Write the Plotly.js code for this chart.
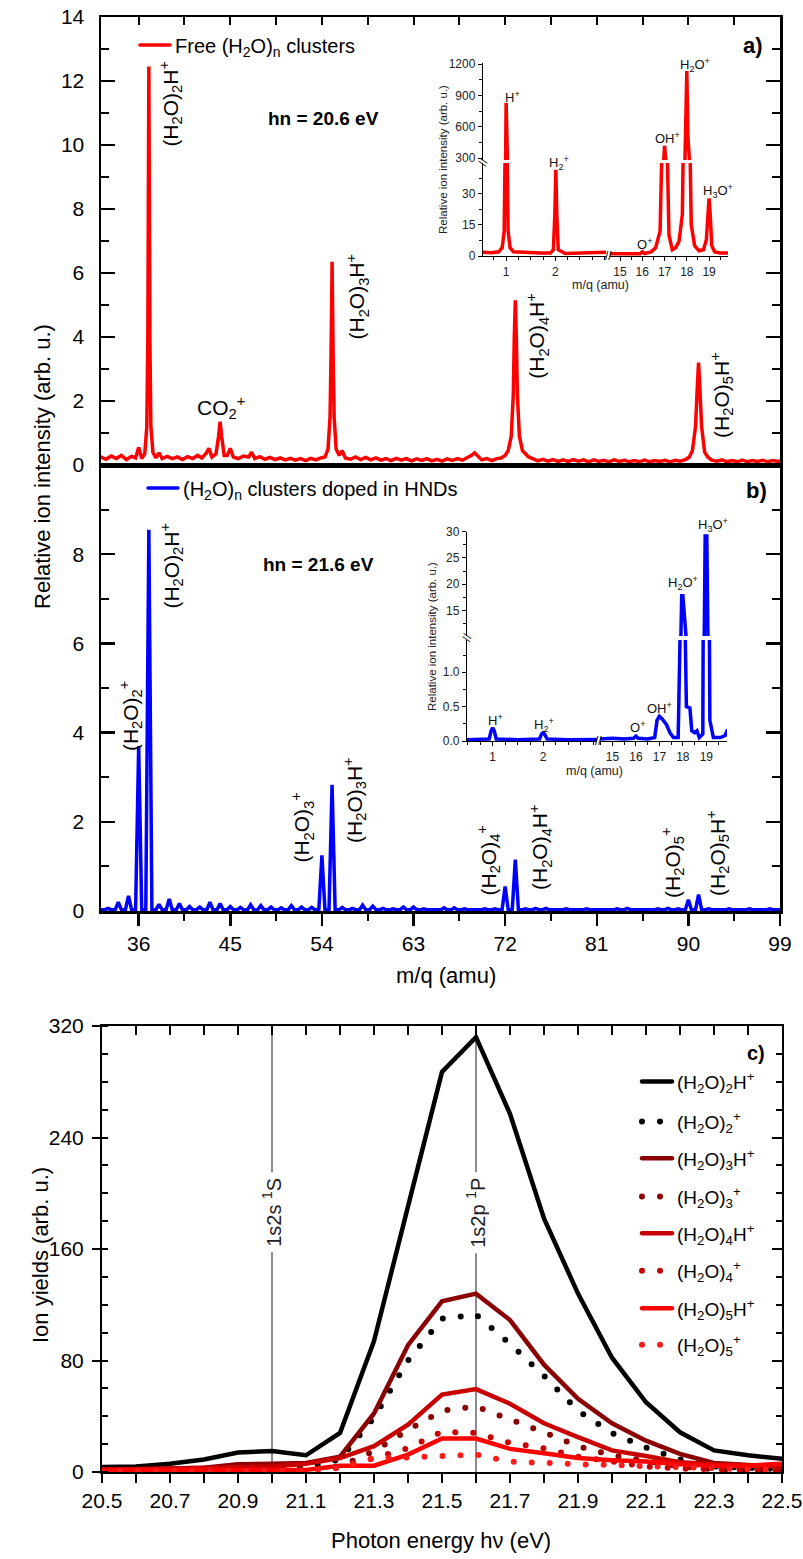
<!DOCTYPE html>
<html>
<head>
<meta charset="utf-8">
<script src="https://cdn.plot.ly/plotly-3.0.1.min.js"></script>
<style>
  html, body { margin: 0; padding: 0; background: #fff; }
  #chart { width: 803px; height: 1559px; }
  /* round caps turn zero-length dashes into round dots */
  .js-line { stroke-linecap: round; }
</style>
</head>
<body>
<div id="chart"></div>
<script>
// ---------------- data ----------------
// (a) free water clusters, hv = 20.6 eV : [m/q, intensity]
const freeSpectrum = [
  [32.3,0.25],[32.8,0.18],[33.3,0.28],[33.8,0.2],[34.3,0.3],[34.8,0.17],[35.3,0.27],[35.7,0.22],
  [36.0,0.55],[36.3,0.2],[36.6,0.35],[36.8,1.2],[36.9,4.0],[37.0,12.45],[37.1,4.0],[37.2,1.2],
  [37.4,0.4],[37.7,0.22],[38.0,0.38],[38.3,0.2],[38.8,0.27],[39.3,0.2],[39.8,0.25],[40.3,0.17],
  [40.8,0.26],[41.3,0.2],[41.8,0.3],[42.2,0.22],[42.6,0.35],[42.9,0.52],[43.2,0.25],[43.6,0.35],
  [43.85,0.9],[44.0,1.35],[44.15,0.9],[44.4,0.3],[44.7,0.3],[45.0,0.52],[45.3,0.25],[45.8,0.2],
  [46.3,0.28],[46.8,0.25],[47.1,0.4],[47.4,0.2],[47.9,0.26],[48.4,0.18],[48.9,0.24],[49.4,0.17],
  [49.9,0.22],[50.4,0.16],[50.9,0.21],[51.4,0.15],[51.9,0.2],[52.4,0.14],[52.9,0.21],[53.4,0.16],
  [53.9,0.22],[54.3,0.25],[54.6,0.5],[54.8,1.5],[54.9,3.5],[55.0,6.35],[55.1,3.5],[55.2,1.5],
  [55.4,0.5],[55.7,0.3],[56.0,0.45],[56.3,0.22],[56.8,0.18],[57.3,0.25],[57.8,0.17],[58.3,0.24],
  [58.8,0.16],[59.3,0.22],[59.8,0.15],[60.3,0.2],[60.8,0.14],[61.3,0.21],[61.8,0.15],[62.3,0.2],
  [62.8,0.13],[63.3,0.19],[63.8,0.14],[64.3,0.2],[64.8,0.13],[65.3,0.18],[65.8,0.12],[66.3,0.19],
  [66.8,0.14],[67.3,0.2],[67.8,0.15],[68.3,0.22],[68.7,0.3],[69.0,0.38],[69.3,0.28],[69.7,0.16],
  [70.2,0.2],[70.7,0.14],[71.2,0.2],[71.6,0.22],[72.0,0.3],[72.3,0.45],[72.6,0.9],[72.8,2.2],
  [72.9,4.0],[73.0,5.15],[73.1,4.0],[73.2,2.2],[73.4,0.9],[73.7,0.45],[74.0,0.35],[74.3,0.25],
  [74.7,0.2],[75.2,0.13],[75.7,0.18],[76.2,0.12],[76.7,0.17],[77.2,0.11],[77.7,0.16],[78.2,0.11],
  [78.7,0.17],[79.2,0.12],[79.7,0.16],[80.2,0.1],[80.7,0.16],[81.2,0.11],[81.7,0.15],[82.2,0.1],
  [82.7,0.16],[83.2,0.11],[83.7,0.15],[84.2,0.1],[84.7,0.14],[85.2,0.1],[85.7,0.15],[86.2,0.1],
  [86.7,0.14],[87.2,0.11],[87.7,0.15],[88.2,0.1],[88.7,0.15],[89.2,0.12],[89.7,0.17],[90.1,0.25],
  [90.4,0.45],[90.7,1.2],[90.9,2.6],[91.0,3.2],[91.1,2.6],[91.3,1.2],[91.6,0.4],[91.9,0.25],
  [92.3,0.15],[92.8,0.12],[93.3,0.16],[93.8,0.1],[94.3,0.14],[94.8,0.1],[95.3,0.15],[95.8,0.1],
  [96.3,0.14],[96.8,0.11],[97.3,0.15],[97.8,0.1],[98.3,0.14],[98.8,0.11],[99.0,0.13]
];

// (a) inset: low-mass fragments of free clusters
const freeInset = [
  [0.53,1.8],[0.7,1.6],[0.85,2.0],[0.92,4],[0.96,12],[0.985,60],[1.0,830],[1.015,60],[1.04,12],
  [1.08,4],[1.15,2.0],[1.4,1.6],[1.7,1.4],[1.9,1.4],[1.96,3],[1.99,20],[2.01,41.5],[2.03,20],
  [2.06,3],[2.2,1.2],[2.5,1.2],[2.8,1.0],[3.1,1.0],
  [14.5,0.8],[15.0,0.8],[15.5,0.9],[15.9,1.1],[16.0,2.0],[16.1,1.2],[16.4,2.0],[16.6,4],[16.8,12],
  [16.9,60],[16.95,300],[17.0,418],[17.05,300],[17.1,60],[17.2,10],[17.35,3],[17.5,4],[17.65,7],
  [17.8,20],[17.9,100],[17.95,500],[18.0,1136],[18.05,500],[18.1,80],[18.2,15],[18.35,5],
  [18.55,2.5],[18.75,3],[18.88,8],[18.95,20],[19.0,27.8],[19.05,20],[19.12,5],[19.25,2],
  [19.5,1.5],[19.85,1.5]
];

// (b) clusters doped in helium nanodroplets, hv = 21.6 eV: peak list
const dopedBaseline = 0.03;
const dopedPeakMz = [33,34,35,36,37,38,39,40,41,42,43,44,45,46,47,48,49,50,51,52,53,54,55,56,57,58,59,60,
  61,62,63,64,65,66,67,68,69,70,71,72,73,74,75,76,77,78,79,80,81,82,83,84,85,86,87,88,89,90,91,92,93,94,
  95,96,97,98];
const dopedPeakHeight = [0.06,0.2,0.34,3.7,8.55,0.15,0.27,0.17,0.1,0.09,0.2,0.17,0.1,0.08,0.14,0.12,0.09,
  0.07,0.12,0.09,0.08,1.25,2.83,0.08,0.06,0.13,0.11,0.06,0.05,0.09,0.09,0.05,0.04,0.07,0.07,0.05,0.04,
  0.05,0.05,0.55,1.15,0.05,0.06,0.06,0.04,0.05,0.04,0.05,0.04,0.04,0.05,0.06,0.04,0.04,0.05,0.06,0.05,
  0.25,0.37,0.05,0.04,0.05,0.04,0.05,0.04,0.05];

// (b) inset: low-mass fragments of doped clusters
const dopedInset = [
  [0.49,0.02],[0.8,0.02],[0.93,0.03],[0.97,0.15],[1.0,0.19],[1.03,0.15],[1.07,0.03],[1.5,0.02],
  [1.93,0.03],[1.97,0.1],[2.0,0.12],[2.03,0.1],[2.08,0.03],[2.5,0.02],[3.1,0.02],
  [14.47,0.03],[15.0,0.04],[15.5,0.03],[15.9,0.04],[16.0,0.07],[16.1,0.04],[16.5,0.03],[16.8,0.05],
  [16.9,0.3],[17.0,0.36],[17.1,0.33],[17.2,0.28],[17.3,0.24],[17.45,0.12],[17.6,0.05],[17.8,0.05],
  [17.88,1.5],[17.95,17.8],[18.0,17.8],[18.08,2],[18.15,0.5],[18.3,0.48],[18.38,0.15],[18.5,0.12],
  [18.6,0.15],[18.7,0.05],[18.85,0.1],[18.9,5],[18.95,29.2],[19.02,29.2],[19.08,5],[19.15,0.3],
  [19.3,0.05],[19.6,0.05],[19.8,0.08],[19.88,0.15]
];

// (c) ion yields versus photon energy
const photonEnergy = [20.5,20.6,20.7,20.8,20.9,21.0,21.1,21.2,21.3,21.4,21.5,21.6,21.7,21.8,21.9,22.0,22.1,22.2,22.3,22.4,22.5];
const yieldW2H = [3.5,4,6,9,14,15,12,28,94,190,287,312,257,182,128,82,50,28.5,15.5,12,9.5];
const yieldW2  = [1,1.5,2,3,3.5,4,3.5,9,39,80,110,113,92,69,44,28,17.5,9,4,3,2];
const yieldW3H = [2,2,2.5,3,5.5,6,6.5,11,42,91,122.5,128,109,77,52.5,35,22.5,13,6.5,5,4];
const yieldW3  = [1,1,1.5,1.5,2,2,2,4,15,30,44,47,38,28.5,18.5,12,8,4,2,1.5,1];
const yieldW4H = [1.5,2,2,2.5,3,4,6,10,18.5,34,55.5,59.5,49,35,25,15.5,11.5,7,5.5,4.5,4];
const yieldW4  = [0.5,0.5,1,1,1,1,1.5,3,9.5,17,29,28,21,17,11,7,4,2.5,2,1.5,1];
const yieldW5H = [1.5,1.5,1.5,1.5,1.5,1.5,1.5,4.5,4.5,12.5,24,24,16.6,13.5,10,8.5,7.5,5.5,4.5,4.5,6];
const yieldW5  = [0.5,0.5,0.5,0.5,1,1,1,3,10,10.5,12,12.5,7.5,6.3,5.6,5,4,3,2.5,2,1.5];

// helium excited states marked in (c)
const heLevels = [21.0, 21.6];
const heLevelNames = ['1s2s <sup>1</sup>S', '1s2p <sup>1</sup>P'];

// ---------------- geometry helpers ----------------
const W = 803, H = 1559;
const px = v => v / W;
const py = v => 1 - v / H;
const FONT = 'Arial, "Liberation Sans", Helvetica, sans-serif';

const col = (pairs, i) => pairs.map(p => p[i]);

// doped spectrum line: each listed peak drawn as a narrow profile on the baseline
const PEAK_HALF = 0.3;
const dopedX = [32.3], dopedY = [dopedBaseline];
dopedPeakMz.forEach((m, i) => {
  dopedX.push(m - PEAK_HALF, m, m + PEAK_HALF);
  dopedY.push(dopedBaseline, dopedPeakHeight[i], dopedBaseline);
});
dopedX.push(99); dopedY.push(dopedBaseline);

// ---------------- traces ----------------
const traces = [];
traces.push({
  x: col(freeSpectrum, 0), y: col(freeSpectrum, 1), xaxis: 'x', yaxis: 'y', mode: 'lines',
  line: { color: '#ff0000', width: 3.5 }, name: 'Free (H<sub>2</sub>O)<sub>n</sub> clusters', legend: 'legend'
});
traces.push({
  x: dopedX, y: dopedY, xaxis: 'x2', yaxis: 'y2', mode: 'lines',
  line: { color: '#0000ff', width: 3.5 }, name: '(H<sub>2</sub>O)<sub>n</sub> clusters doped in HNDs', legend: 'legend2'
});

// broken-axis insets: same data in each of the four panes
[['x5', 'y5'], ['x6', 'y5'], ['x5', 'y6'], ['x6', 'y6']].forEach(([xa, ya]) => {
  traces.push({ x: col(freeInset, 0), y: col(freeInset, 1), xaxis: xa, yaxis: ya, mode: 'lines',
    line: { color: '#ff0000', width: 3.5 }, showlegend: false, hoverinfo: 'skip' });
});
[['x7', 'y7'], ['x8', 'y7'], ['x7', 'y8'], ['x8', 'y8']].forEach(([xa, ya]) => {
  traces.push({ x: col(dopedInset, 0), y: col(dopedInset, 1), xaxis: xa, yaxis: ya, mode: 'lines',
    line: { color: '#0000ff', width: 3.5 }, showlegend: false, hoverinfo: 'skip' });
});

const DOTS = '0px,18px';
const yieldSeries = [
  { y: yieldW2H, name: '(H<sub>2</sub>O)<sub>2</sub>H<sup>+</sup>', color: '#000000', dash: 'solid' },
  { y: yieldW2,  name: '(H<sub>2</sub>O)<sub>2</sub><sup>+</sup>',  color: '#000000', dash: DOTS },
  { y: yieldW3H, name: '(H<sub>2</sub>O)<sub>3</sub>H<sup>+</sup>', color: '#8b0000', dash: 'solid' },
  { y: yieldW3,  name: '(H<sub>2</sub>O)<sub>3</sub><sup>+</sup>',  color: '#8b0000', dash: DOTS },
  { y: yieldW4H, name: '(H<sub>2</sub>O)<sub>4</sub>H<sup>+</sup>', color: '#c80000', dash: 'solid' },
  { y: yieldW4,  name: '(H<sub>2</sub>O)<sub>4</sub><sup>+</sup>',  color: '#c80000', dash: DOTS },
  { y: yieldW5H, name: '(H<sub>2</sub>O)<sub>5</sub>H<sup>+</sup>', color: '#ff0000', dash: 'solid' },
  { y: yieldW5,  name: '(H<sub>2</sub>O)<sub>5</sub><sup>+</sup>',  color: '#ff1a1a', dash: DOTS }
];
yieldSeries.forEach((s, i) => {
  traces.push({
    x: photonEnergy, y: s.y, xaxis: 'x3', yaxis: 'y3', mode: 'lines', name: s.name,
    line: { color: s.color, width: s.dash === 'solid' ? 4.5 : 6, dash: s.dash },
    legend: 'legend' + (i + 3)
  });
});
// carrier for the mirrored tick axes of (c)
traces.push({ x: [], y: [], xaxis: 'x4', yaxis: 'y4', mode: 'lines', showlegend: false });

// ---------------- axes ----------------
function ax(o) {
  return Object.assign({
    showgrid: false, zeroline: false, showline: true, linecolor: '#000', tickcolor: '#000',
    fixedrange: true, tickfont: { family: FONT, size: 21, color: '#000' }
  }, o);
}
function insetAx(o) {
  return ax(Object.assign({ ticks: 'outside', ticklen: 4, tickwidth: 1, linewidth: 1.2,
    tickfont: { family: FONT, size: 12, color: '#222' } }, o));
}

const layout = {
  width: W, height: H, margin: { l: 0, r: 0, t: 0, b: 0 },
  paper_bgcolor: '#fff', plot_bgcolor: 'rgba(0,0,0,0)',
  font: { family: FONT, color: '#000', size: 20 },
  showlegend: true,

  // (a)
  xaxis: ax({ domain: [px(101), px(780)], anchor: 'y', range: [32.3, 99], side: 'top',
    tickmode: 'linear', tick0: 36, dtick: 4.5, ticks: 'inside', ticklen: 8, tickwidth: 2,
    showticklabels: false, linewidth: 2.5, mirror: true }),
  yaxis: ax({ domain: [py(465), py(17)], anchor: 'x', range: [0, 14], tickmode: 'linear', tick0: 0, dtick: 2,
    ticks: 'inside', ticklen: 14, tickwidth: 2.5, linewidth: 2.5, mirror: 'ticks', ticklabelstandoff: 10,
    minor: { ticks: 'inside', ticklen: 8, tickwidth: 2, tickcolor: '#000', tickmode: 'linear', tick0: 0, dtick: 1 } }),
  // (b)
  xaxis2: ax({ domain: [px(101), px(780)], anchor: 'y2', range: [32.3, 99], tickmode: 'linear', tick0: 36, dtick: 9,
    ticks: 'outside', ticklen: 12, tickwidth: 2.5, linewidth: 2.5, mirror: true,
    minor: { ticks: 'outside', ticklen: 7, tickwidth: 2, tickcolor: '#000', tickmode: 'linear', tick0: 36, dtick: 4.5 } }),
  yaxis2: ax({ domain: [py(911), py(465)], anchor: 'x2', range: [0, 10], tickmode: 'array', tickvals: [0, 2, 4, 6, 8],
    ticks: 'inside', ticklen: 14, tickwidth: 2.5, linewidth: 2.5, mirror: 'ticks', ticklabelstandoff: 10,
    minor: { ticks: 'inside', ticklen: 8, tickwidth: 2, tickcolor: '#000', tickmode: 'linear', tick0: 0, dtick: 1 } }),
  // (c)
  xaxis3: ax({ domain: [px(102), px(782)], anchor: 'y3', range: [20.5, 22.5], tickmode: 'linear', tick0: 20.5, dtick: 0.2,
    tickformat: '.1f', ticks: 'outside', ticklen: 9, tickwidth: 2, linewidth: 2, mirror: true,
    minor: { ticks: 'outside', ticklen: 9, tickwidth: 2, tickcolor: '#000', tickmode: 'linear', tick0: 20.5, dtick: 0.1 } }),
  yaxis3: ax({ domain: [py(1472), py(1026)], anchor: 'x3', range: [0, 320], tickmode: 'linear', tick0: 0, dtick: 80,
    ticks: 'outside', ticklen: 8, tickwidth: 2, linewidth: 2, mirror: true, ticklabelstandoff: 4,
    minor: { ticks: 'inside', ticklen: 6, tickwidth: 2, tickcolor: '#000', tickmode: 'linear', tick0: 0, dtick: 20 } }),
  xaxis4: ax({ overlaying: 'x3', anchor: 'y3', side: 'top', range: [20.5, 22.5], tickmode: 'linear', tick0: 20.5, dtick: 0.1,
    ticks: 'inside', ticklen: 9, tickwidth: 2, showticklabels: false, showline: false }),
  yaxis4: ax({ overlaying: 'y3', anchor: 'x3', side: 'right', range: [0, 320], tickmode: 'linear', tick0: 0, dtick: 80,
    ticks: 'inside', ticklen: 10, tickwidth: 2, showticklabels: false, showline: false,
    minor: { ticks: 'inside', ticklen: 6, tickwidth: 2, tickcolor: '#000', tickmode: 'linear', tick0: 0, dtick: 20 } }),

  // inset (a): broken axes
  xaxis5: insetAx({ domain: [px(483), px(606)], anchor: 'y5', range: [0.53, 3.03], tickmode: 'array', tickvals: [1, 2],
    minor: { ticks: 'outside', ticklen: 2.5, tickwidth: 1, tickcolor: '#000', tickmode: 'linear', tick0: 0.5, dtick: 0.25 } }),
  xaxis6: insetAx({ domain: [px(610), px(728)], anchor: 'y5', range: [14.55, 19.85], tickmode: 'array', tickvals: [15, 16, 17, 18, 19],
    minor: { ticks: 'outside', ticklen: 2.5, tickwidth: 1, tickcolor: '#000', tickmode: 'linear', tick0: 14.5, dtick: 0.5 } }),
  yaxis5: insetAx({ domain: [py(256), py(163)], anchor: 'x5', range: [0, 44.8], tickmode: 'array', tickvals: [0, 15, 30],
    minor: { ticks: 'outside', ticklen: 2.5, tickwidth: 1, tickcolor: '#000', tickmode: 'linear', tick0: 0, dtick: 7.5 } }),
  yaxis6: insetAx({ domain: [py(160), py(63)], anchor: 'x5', range: [281, 1212], tickmode: 'array', tickvals: [300, 600, 900, 1200],
    minor: { ticks: 'outside', ticklen: 2.5, tickwidth: 1, tickcolor: '#000', tickmode: 'linear', tick0: 0, dtick: 150 } }),

  // inset (b): broken axes
  xaxis7: insetAx({ domain: [px(467), px(597)], anchor: 'y7', range: [0.49, 3.07], tickmode: 'array', tickvals: [1, 2],
    minor: { ticks: 'outside', ticklen: 2.5, tickwidth: 1, tickcolor: '#000', tickmode: 'linear', tick0: 0.5, dtick: 0.25 } }),
  xaxis8: insetAx({ domain: [px(600), px(727)], anchor: 'y7', range: [14.47, 19.88], tickmode: 'array', tickvals: [15, 16, 17, 18, 19],
    minor: { ticks: 'outside', ticklen: 2.5, tickwidth: 1, tickcolor: '#000', tickmode: 'linear', tick0: 14.5, dtick: 0.5 } }),
  yaxis7: insetAx({ domain: [py(741), py(640)], anchor: 'x7', range: [0, 1.47], tickmode: 'array', tickvals: [0, 0.5, 1.0],
    ticktext: ['0.0', '0.5', '1.0'],
    minor: { ticks: 'outside', ticklen: 2.5, tickwidth: 1, tickcolor: '#000', tickmode: 'linear', tick0: 0, dtick: 0.25 } }),
  yaxis8: insetAx({ domain: [py(636), py(531.7)], anchor: 'x7', range: [10.1, 30], tickmode: 'array', tickvals: [15, 20, 25, 30],
    minor: { ticks: 'outside', ticklen: 2.5, tickwidth: 1, tickcolor: '#000', tickmode: 'linear', tick0: 0, dtick: 2.5 } }),

  shapes: heLevels.map(e => ({ type: 'line', xref: 'x3', yref: 'y3', x0: e, x1: e, y0: 0, y1: 320,
    line: { color: '#8c8c8c', width: 2 }, layer: 'below' })),
  annotations: []
};

// legends
function legendAt(xPix, yPix, size) {
  return { x: px(xPix), y: py(yPix), xanchor: 'left', yanchor: 'middle', bgcolor: 'rgba(0,0,0,0)',
    borderwidth: 0, font: { family: FONT, size: size, color: '#000' } };
}
layout.legend = legendAt(135, 45, 20);
layout.legend2 = legendAt(143, 488, 20);
[1081.7, 1121.7, 1158.3, 1196.7, 1233.3, 1271, 1308.3, 1345].forEach((yc, i) => {
  layout['legend' + (i + 3)] = legendAt(637, yc, 19);
});

// ---------------- text ----------------
const A = layout.annotations;
function note(o) {
  A.push(Object.assign({ showarrow: false, xanchor: 'center', yanchor: 'middle',
    font: { family: FONT, size: 21, color: '#000' } }, o));
}
function paperNote(xp, yp, text, extra) { note(Object.assign({ xref: 'paper', yref: 'paper', x: px(xp), y: py(yp), text: text }, extra || {})); }

// axis titles
paperNote(42, 467, 'Relative ion intensity (arb. u.)', { textangle: -90, font: { family: FONT, size: 22, color: '#000' } });
paperNote(446, 975, 'm/q (amu)', { font: { family: FONT, size: 22, color: '#000' } });
paperNote(40, 1255, 'Ion yields (arb. u.)', { textangle: -90, font: { family: FONT, size: 22, color: '#000' } });
paperNote(441, 1540, 'Photon energy h\u03bd (eV)', { font: { family: FONT, size: 22, color: '#000' } });

// panel tags
const tagFont = { family: FONT, size: 22, color: '#000' };
paperNote(753, 45, '<b>a)</b>', { font: tagFont });
paperNote(756, 490, '<b>b)</b>', { font: tagFont });
paperNote(756, 1053, '<b>c)</b>', { font: { family: FONT, size: 20, color: '#000' } });

// photon energies
note({ xref: 'x', yref: 'y', x: 54.2, y: 10.84, text: '<b>hn = 20.6 eV</b>', font: { family: FONT, size: 19, color: '#000' } });
note({ xref: 'x2', yref: 'y2', x: 53.7, y: 7.76, text: '<b>hn = 21.6 eV</b>', font: { family: FONT, size: 19, color: '#000' } });

// peak assignments (a)
const W2H = '(H<sub>2</sub>O)<sub>2</sub>H<sup>+</sup>', W3H = '(H<sub>2</sub>O)<sub>3</sub>H<sup>+</sup>';
const W4H = '(H<sub>2</sub>O)<sub>4</sub>H<sup>+</sup>', W5H = '(H<sub>2</sub>O)<sub>5</sub>H<sup>+</sup>';
note({ xref: 'x', yref: 'y', x: 39.1, y: 11.3, text: W2H, textangle: -90 });
note({ xref: 'x', yref: 'y', x: 44.1, y: 1.8, text: 'CO<sub>2</sub><sup>+</sup>' });
note({ xref: 'x', yref: 'y', x: 57.4, y: 5.25, text: W3H, textangle: -90 });
note({ xref: 'x', yref: 'y', x: 75.1, y: 4.03, text: W4H, textangle: -90 });
note({ xref: 'x', yref: 'y', x: 93.3, y: 2.19, text: W5H, textangle: -90 });
// peak assignments (b)
note({ xref: 'x2', yref: 'y2', x: 35.15, y: 4.37, text: '(H<sub>2</sub>O)<sub>2</sub><sup>+</sup>', textangle: -90 });
note({ xref: 'x2', yref: 'y2', x: 39.25, y: 7.74, text: W2H, textangle: -90 });
note({ xref: 'x2', yref: 'y2', x: 52.0, y: 1.86, text: '(H<sub>2</sub>O)<sub>3</sub><sup>+</sup>', textangle: -90 });
note({ xref: 'x2', yref: 'y2', x: 57.25, y: 2.49, text: W3H, textangle: -90 });
note({ xref: 'x2', yref: 'y2', x: 70.35, y: 1.14, text: '(H<sub>2</sub>O)<sub>4</sub><sup>+</sup>', textangle: -90 });
note({ xref: 'x2', yref: 'y2', x: 75.4, y: 1.43, text: W4H, textangle: -90 });
note({ xref: 'x2', yref: 'y2', x: 88.5, y: 1.08, text: '(H<sub>2</sub>O)<sub>5</sub><sup>+</sup>', textangle: -90 });
note({ xref: 'x2', yref: 'y2', x: 92.8, y: 1.3, text: W5H, textangle: -90 });

// helium level labels (c)
heLevels.forEach((e, i) => {
  note({ xref: 'x3', yref: 'y3', x: e, y: 186, text: heLevelNames[i], textangle: -90, bgcolor: '#fff', borderpad: 5,
    font: { family: FONT, size: 20, color: '#222' } });
});

// insets: titles, fragment labels, axis breaks
const insetTitle = { family: FONT, size: 11.5, color: '#222' };
const insetLab = { family: FONT, size: 13, color: '#111' };
paperNote(443, 160, 'Relative ion intensity (arb. u.)', { textangle: -90, font: insetTitle });
paperNote(600, 285, 'm/q (amu)', { font: { family: FONT, size: 12.5, color: '#222' } });
paperNote(432, 637, 'Relative ion intensity (arb. u.)', { textangle: -90, font: insetTitle });
paperNote(594, 771, 'm/q (amu)', { font: { family: FONT, size: 12.5, color: '#222' } });

paperNote(512, 97, 'H<sup>+</sup>', { font: insetLab });
paperNote(559, 163, 'H<sub>2</sub><sup>+</sup>', { font: insetLab });
paperNote(644, 244, 'O<sup>+</sup>', { font: insetLab });
paperNote(667, 138, 'OH<sup>+</sup>', { font: insetLab });
paperNote(695, 65, 'H<sub>2</sub>O<sup>+</sup>', { font: insetLab });
paperNote(718, 191, 'H<sub>3</sub>O<sup>+</sup>', { font: insetLab });

paperNote(495, 720, 'H<sup>+</sup>', { font: insetLab });
paperNote(544, 725, 'H<sub>2</sub><sup>+</sup>', { font: insetLab });
paperNote(637, 727, 'O<sup>+</sup>', { font: insetLab });
paperNote(659, 708, 'OH<sup>+</sup>', { font: insetLab });
paperNote(683, 583, 'H<sub>2</sub>O<sup>+</sup>', { font: insetLab });
paperNote(713, 525, 'H<sub>3</sub>O<sup>+</sup>', { font: insetLab });

const breakFont = { family: FONT, size: 12, color: '#000' };
paperNote(608, 256, '//', { font: breakFont });
paperNote(483, 161.5, '//', { font: breakFont, textangle: -70 });
paperNote(598.5, 741, '//', { font: breakFont });
paperNote(467, 638, '//', { font: breakFont, textangle: -70 });

Plotly.newPlot('chart', traces, layout, { staticPlot: true, displayModeBar: false });
</script>
</body>
</html>
